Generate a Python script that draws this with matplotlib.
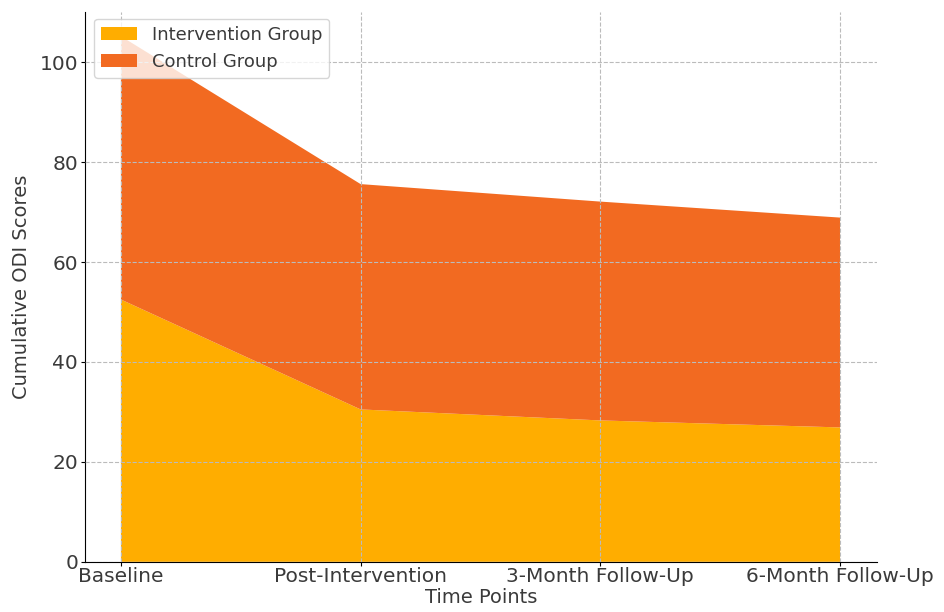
import matplotlib
matplotlib.use("Agg")
import matplotlib.pyplot as plt

# Data
time_points = ["Baseline", "Post-Intervention", "3-Month Follow-Up", "6-Month Follow-Up"]
intervention = [52.5, 30.5, 28.3, 26.9]
control = [52.7, 45.1, 43.8, 42.0]

colors = ["#FFAD00", "#F26A21"]
text_col = "#3a3a3a"

fig = plt.figure(figsize=(9.44, 6.12), dpi=100)
ax = fig.add_axes([0.090, 0.082, 0.839, 0.898])

x = range(len(time_points))
ax.stackplot(x, intervention, control, labels=["Intervention Group", "Control Group"],
             colors=colors)

ax.set_xticks(list(x))
ax.set_xticklabels(time_points, fontsize=14.5, color=text_col)
ax.tick_params(axis="y", labelsize=14.5, labelcolor=text_col, pad=2, length=3)
ax.tick_params(axis="x", pad=1, length=3)
ax.set_xlim(-0.15, 3.154)
ax.set_ylim(0, 110)
ax.set_xlabel("Time Points", fontsize=14, color=text_col, labelpad=1)
ax.set_ylabel("Cumulative ODI Scores", fontsize=14, color=text_col, labelpad=6)

ax.grid(True, linestyle="--", color="#bbbbbb", linewidth=0.8)
ax.set_axisbelow(False)
for s in ["top", "right"]:
    ax.spines[s].set_visible(False)

leg = ax.legend(loc="upper left", fontsize=13, framealpha=0.8, bbox_to_anchor=(0.0, 1.005))
for t in leg.get_texts():
    t.set_color(text_col)

plt.savefig("out.png", dpi=100)
plt.close()
